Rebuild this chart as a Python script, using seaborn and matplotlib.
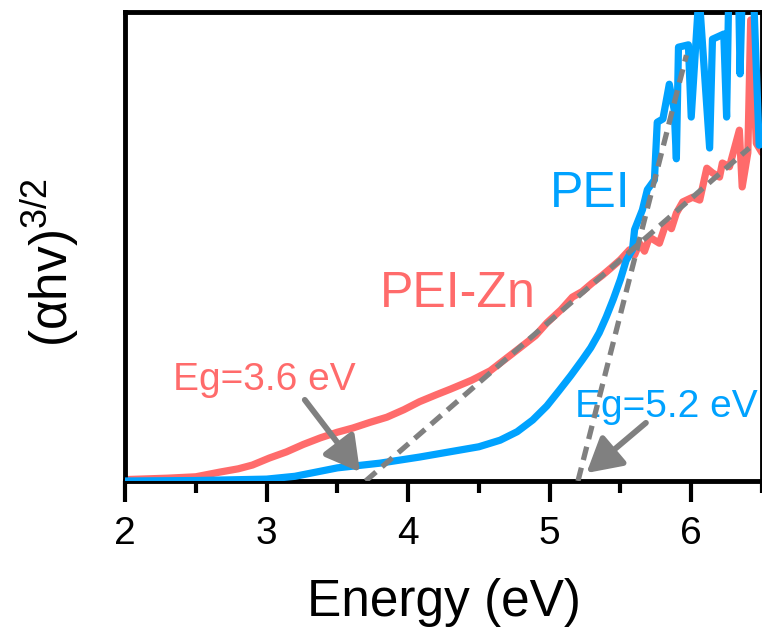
import numpy as np
import pandas as pd
import matplotlib
matplotlib.use("Agg")
import matplotlib.pyplot as plt
import seaborn as sns

# ---------------- data ----------------
energy_zn = [2.0, 2.3, 2.5, 2.67, 2.8, 2.9, 3.02, 3.14, 3.26, 3.38, 3.5, 3.61, 3.73, 3.85,
             3.97, 4.08, 4.2, 4.3, 4.45, 4.58, 4.7, 4.79, 4.9, 4.98, 5.08, 5.16, 5.23, 5.30,
             5.37, 5.44, 5.5, 5.564, 5.60, 5.634, 5.67, 5.705, 5.775, 5.825, 5.86, 5.895,
             5.94, 6.01, 6.06, 6.11, 6.15, 6.20, 6.22, 6.27, 6.34, 6.36, 6.40, 6.42, 6.46, 6.5]
alpha_zn = [0.3, 0.6, 0.9, 1.9, 2.6, 3.4, 4.9, 6.2, 7.8, 9.2, 10.4, 11.3, 12.5, 13.6,
            15.2, 16.9, 18.4, 19.6, 21.5, 23.5, 26.3, 28.4, 31.0, 33.7, 36.5, 39.2, 40.4, 42.2,
            43.8, 45.6, 47.2, 49.3, 48.2, 50.7, 49.0, 52.0, 50.7, 55.2, 53.8, 57.1,
            59.5, 60.5, 59.9, 66.7, 65.7, 64.8, 67.8, 67.0, 74.8, 62.7, 70.0, 98.3, 72.0, 70.0]

energy_pei = [2.0, 2.5, 3.0, 3.2, 3.5, 3.8, 4.08, 4.29, 4.5, 4.65, 4.77, 4.88, 4.98, 5.07,
              5.15, 5.23, 5.29, 5.35, 5.40, 5.45, 5.50, 5.54, 5.585, 5.60, 5.655, 5.69, 5.74,
              5.76, 5.80, 5.845, 5.88, 5.895, 5.91, 5.98, 6.00, 6.055, 6.13, 6.15, 6.23, 6.25,
              6.265, 6.335, 6.345, 6.36, 6.44, 6.48, 6.5]
alpha_pei = [0.0, 0.1, 0.4, 1.0, 2.8, 3.8, 5.1, 6.2, 7.3, 8.7, 10.5, 13.0, 16.0, 19.4,
             22.5, 25.8, 28.4, 31.6, 35.0, 38.8, 43.0, 47.0, 49.3, 53.6, 57.8, 62.1, 64.2,
             76.5, 77.2, 84.6, 79.1, 68.7, 92.5, 93.0, 77.6, 104.0, 71.0, 94.2, 95.3, 77.6,
             104.0, 104.0, 86.8, 104.0, 104.0, 71.6, 72.0]

# Tauc tangent lines
fit_zn_x = [3.70, 6.41]
fit_zn_y = [0.0, 71.0]
fit_pei_x = [5.20, 5.966]
fit_pei_y = [0.0, 90.8]

x_ticks = [2, 3, 4, 5, 6]
x_minor = [2.5, 3.5, 4.5, 5.5, 6.5]

BLUE = "#00A2FF"
RED = "#FF6B6B"
GRAY = "#808080"

# ---------------- style ----------------
sns.set_style("ticks")
plt.rcParams["font.family"] = ["Liberation Sans", "DejaVu Sans"]
plt.rcParams["mathtext.default"] = "regular"
plt.rcParams["text.color"] = "black"
plt.rcParams["axes.labelcolor"] = "black"
plt.rcParams["xtick.direction"] = "out"

fig = plt.figure(figsize=(7.62, 6.39), dpi=100)
ax = fig.add_axes([125 / 762, (639 - 481) / 639, 637 / 762, 469 / 639])

df_zn = pd.DataFrame({"Energy": energy_zn, "alpha": alpha_zn})
df_pei = pd.DataFrame({"Energy": energy_pei, "alpha": alpha_pei})

sns.lineplot(data=df_zn, x="Energy", y="alpha", ax=ax, color=RED, linewidth=5.2,
             sort=False, estimator=None, zorder=2)
sns.lineplot(data=df_pei, x="Energy", y="alpha", ax=ax, color=BLUE, linewidth=5.2,
             sort=False, estimator=None, zorder=3)

ax.plot(fit_zn_x, fit_zn_y, color=GRAY, linewidth=3.8, dashes=(2.6, 1.5), zorder=4)
ax.plot(fit_pei_x, fit_pei_y, color=GRAY, linewidth=3.8, dashes=(2.6, 1.5), zorder=4)

ax.set_xlim(2, 6.5)
ax.set_ylim(0, 100)
ax.set_xticks(x_ticks)
ax.set_xticks(x_minor, minor=True)
ax.set_yticks([])
ax.tick_params(axis="x", which="major", direction="out", length=15, width=3,
               labelsize=28, pad=10, colors="black", bottom=True, top=False)
ax.tick_params(axis="x", which="minor", direction="out", length=8.5, width=3,
               colors="black", bottom=True, top=False)
ax.tick_params(axis="y", left=False, which="both")
for s in ax.spines.values():
    s.set_linewidth(3.5)
    s.set_color("black")
    s.set_visible(True)

ax.set_xlabel("Energy (eV)", fontsize=37, labelpad=19, color="black")
ax.set_ylabel("(αhv)$^{3/2}$", fontsize=37, color="black")
ax.yaxis.set_label_coords((50 - 125) / 637, 0.465)
ax.yaxis.label.set_verticalalignment("center")

# labels
ax.text(5.0, 58.4, "PEI", color=BLUE, fontsize=36, ha="left", va="baseline")
ax.text(3.80, 37.1, "PEI-Zn", color=RED, fontsize=36, ha="left", va="baseline")
ax.text(2.339, 19.4, "Eg=3.6 eV", color=RED, fontsize=28, ha="left", va="baseline")
ax.text(5.176, 13.6, "Eg=5.2 eV", color=BLUE, fontsize=28, ha="left", va="baseline")

arrow = dict(arrowstyle="-|>,head_length=0.8,head_width=0.45", color=GRAY, lw=4.2,
             mutation_scale=26, shrinkA=0, shrinkB=0)
ax.annotate("", xy=(3.66, 1.9), xytext=(3.27, 17.3), arrowprops=arrow, zorder=5)
ax.annotate("", xy=(5.26, 1.7), xytext=(5.68, 12.4), arrowprops=arrow, zorder=5)

fig.savefig("out.png", dpi=100)
